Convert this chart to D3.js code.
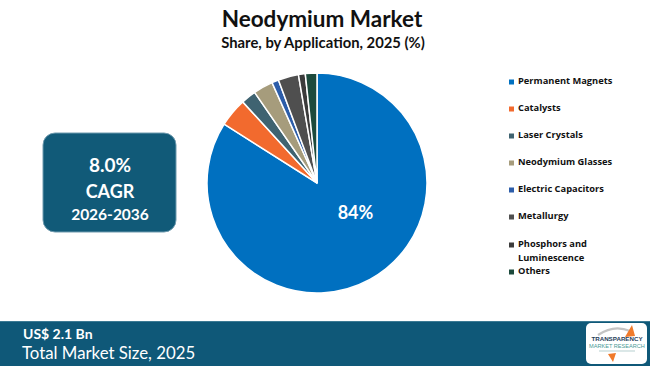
<!DOCTYPE html>
<html><head><meta charset="utf-8">
<script src="https://cdn.jsdelivr.net/npm/d3@7"></script>
<style>html,body{margin:0;padding:0;background:#fff;}svg{display:block;}</style>
</head><body>
<script>
const categories = ["Permanent Magnets","Catalysts","Laser Crystals","Neodymium Glasses","Electric Capacitors","Metallurgy","Phosphors and Luminescence","Others"];
const shares = [84, 4.2, 2.2, 2.9, 1.0, 3.0, 1.0, 1.7];
const colors = ["#0070C0","#F26A2E","#3F6371","#A69C7C","#2C5DA9","#4F4F4F","#3B3B3B","#1C4A3C"];
const legendLines = [["Permanent Magnets"],["Catalysts"],["Laser Crystals"],["Neodymium Glasses"],["Electric Capacitors"],["Metallurgy"],["Phosphors and","Luminescence"],["Others"]];

const W = 650, H = 366;
const svg = d3.select("body").append("svg").attr("width", W).attr("height", H);
svg.append("rect").attr("width", W).attr("height", H).attr("fill", "#fff");

const font = "Lato, 'Open Sans', sans-serif";
svg.append("text").attr("x", 322).attr("y", 27).attr("text-anchor","middle")
  .attr("font-family", font).attr("font-weight", 700).attr("font-size", 22.5).attr("fill","#111")
  .text("Neodymium Market");
svg.append("text").attr("x", 323).attr("y", 48).attr("text-anchor","middle")
  .attr("font-family", font).attr("font-weight", 700).attr("font-size", 14.8).attr("fill","#111")
  .text("Share, by Application, 2025 (%)");

// Pie
const cx = 317, cy = 183, R = 110;
const pie = d3.pie().sort(null).value(d => d)(shares);
const arc = d3.arc().innerRadius(0).outerRadius(R);
const g = svg.append("g").attr("transform", `translate(${cx},${cy})`);
g.selectAll("path").data(pie).enter().append("path")
  .attr("d", arc).attr("fill", (d,i) => colors[i])
  .attr("stroke", "#fff").attr("stroke-width", 1.5);
const lp = d3.pointRadial(129 * Math.PI / 180, R * 0.45);
g.append("text").attr("x", lp[0]).attr("y", lp[1]).attr("text-anchor","middle")
  .attr("dominant-baseline","middle")
  .attr("font-family", font).attr("font-weight", 700).attr("font-size", 18).attr("fill","#fff")
  .text(shares[0] + "%");

// Legend
const legendY = [82,109,136,163,190,217,245,272];
const lg = svg.append("g");
legendLines.forEach((lines, i) => {
  lg.append("rect").attr("x", 509).attr("y", legendY[i]-2.5).attr("width", 5).attr("height", 5).attr("fill", colors[i]);
  lines.forEach((t, j) => {
    lg.append("text").attr("x", 518).attr("y", legendY[i] + j*13.5).attr("dominant-baseline","middle")
      .attr("font-family", "'Open Sans', sans-serif").attr("font-weight", 700).attr("font-size", 9.3).attr("fill","#111")
      .text(t);
  });
});

// CAGR box
svg.append("rect").attr("x", 43).attr("y", 133).attr("width", 133).attr("height", 99).attr("rx", 12)
  .attr("fill", "#115A78").attr("stroke", "#6E9AAE").attr("stroke-width", 1);
const boxText = [["8.0%", 167, 19],["CAGR", 193, 18],["2026-2036", 216, 15.5]];
boxText.forEach(([t,y,s]) => {
  svg.append("text").attr("x", 110).attr("y", y).attr("text-anchor","middle").attr("dominant-baseline","middle")
    .attr("font-family", font).attr("font-weight", 700).attr("font-size", s).attr("fill","#fff").text(t);
});

// Footer
svg.append("rect").attr("x", 0).attr("y", 321).attr("width", W).attr("height", H-321).attr("fill", "#0F5878");
svg.append("line").attr("x1",0).attr("x2",W).attr("y1",321.5).attr("y2",321.5).attr("stroke","#3C7A94").attr("stroke-width",1);
svg.append("text").attr("x", 23).attr("y", 339)
  .attr("font-family", font).attr("font-weight", 700).attr("font-size", 14).attr("fill","#fff").text("US$ 2.1 Bn");
svg.append("text").attr("x", 22).attr("y", 359)
  .attr("font-family", font).attr("font-weight", 400).attr("font-size", 16.8).attr("fill","#fff").text("Total Market Size, 2025");

// Logo
const lgx = 586, lgy = 323;
svg.append("rect").attr("x", lgx).attr("y", lgy).attr("width", 61).attr("height", 41).attr("rx", 5).attr("fill", "#fff");
svg.append("path").attr("d", `M${lgx+12},${lgy+12} Q${lgx+28},${lgy+1} ${lgx+44},${lgy+8}`)
  .attr("fill","none").attr("stroke","#c4c4c4").attr("stroke-width",2.2);
svg.append("path").attr("d", `M${lgx+39},${lgy+14} L${lgx+46},${lgy+2} L${lgx+49},${lgy+13} Z`).attr("fill","#F07A2A");
svg.append("text").attr("x", lgx+31).attr("y", lgy+18).attr("text-anchor","middle")
  .attr("font-family", "'Liberation Sans', sans-serif").attr("font-weight",700).attr("font-size", 6.2).attr("fill","#1F3E5A").text("TRANSPARENCY");
svg.append("text").attr("x", lgx+31).attr("y", lgy+24.5).attr("text-anchor","middle")
  .attr("font-family", "'Liberation Sans', sans-serif").attr("font-size", 5.6).attr("fill","#4A9A96").text("MARKET RESEARCH");
svg.append("line").attr("x1", lgx+13).attr("x2", lgx+49).attr("y1", lgy+28).attr("y2", lgy+28).attr("stroke","#9bb").attr("stroke-width",0.7);
svg.append("path").attr("d", `M${lgx+22},${lgy+31} L${lgx+27},${lgy+39} L${lgx+30},${lgy+30} Z`).attr("fill","#F07A2A");
</script>
</body></html>
